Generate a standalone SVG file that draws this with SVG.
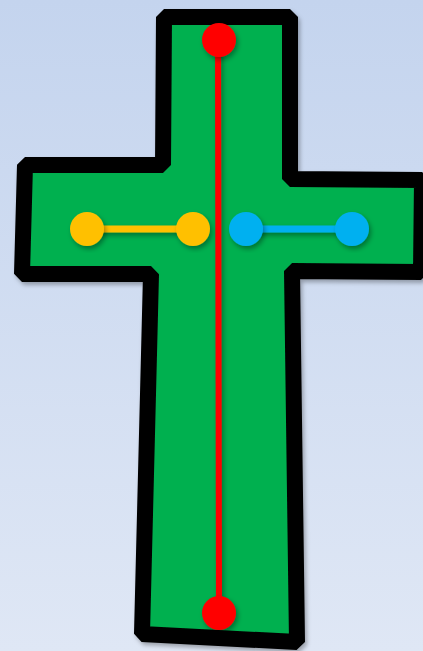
<svg xmlns="http://www.w3.org/2000/svg" width="423" height="651" viewBox="0 0 423 651">
<defs>
<linearGradient id="bg" x1="0" y1="0" x2="0" y2="1">
<stop offset="0" stop-color="#c4d4ee"/>
<stop offset="1" stop-color="#dfe7f5"/>
</linearGradient>
<filter id="sh" x="-20%" y="-20%" width="140%" height="140%">
<feDropShadow dx="2" dy="3" stdDeviation="2.5" flood-color="#000" flood-opacity="0.35"/>
</filter>
<filter id="sh2" x="-10%" y="-10%" width="120%" height="120%">
<feDropShadow dx="2" dy="3" stdDeviation="2" flood-color="#000" flood-opacity="0.3"/>
</filter>
</defs>
<style>
.cross{fill:#00b050;stroke:#000;stroke-width:16;stroke-linejoin:bevel}
.red{stroke:#ff0000;stroke-width:6}
.yel{stroke:#ffc000;stroke-width:7}
.blu{stroke:#00b0f0;stroke-width:7}
</style>
<rect width="423" height="651" fill="url(#bg)"/>
<g id="cross" filter="url(#sh2)">
<polygon class="cross" points="164,17 290,17 290,179 422,180 421,272 292,271 297,642 142,634 151,274 22,274 25,165 163,165"/>
</g>
<g id="connectors" filter="url(#sh)">
<line class="red" x1="218" y1="40" x2="219" y2="613"/>
<line class="yel" x1="87" y1="229" x2="193" y2="229"/>
<line class="blu" x1="246" y1="229" x2="352" y2="229"/>
</g>
<g id="red-top" filter="url(#sh)"><circle cx="219" cy="40" r="17" fill="#ff0000"/></g>
<g id="red-bottom" filter="url(#sh)"><circle cx="219" cy="613" r="17" fill="#ff0000"/></g>
<g id="yellow-left" filter="url(#sh)"><circle cx="87" cy="229" r="17" fill="#ffc000"/></g>
<g id="yellow-right" filter="url(#sh)"><circle cx="193" cy="229" r="17" fill="#ffc000"/></g>
<g id="blue-left" filter="url(#sh)"><circle cx="246" cy="229" r="17" fill="#00b0f0"/></g>
<g id="blue-right" filter="url(#sh)"><circle cx="352" cy="229" r="17" fill="#00b0f0"/></g>
</svg>
